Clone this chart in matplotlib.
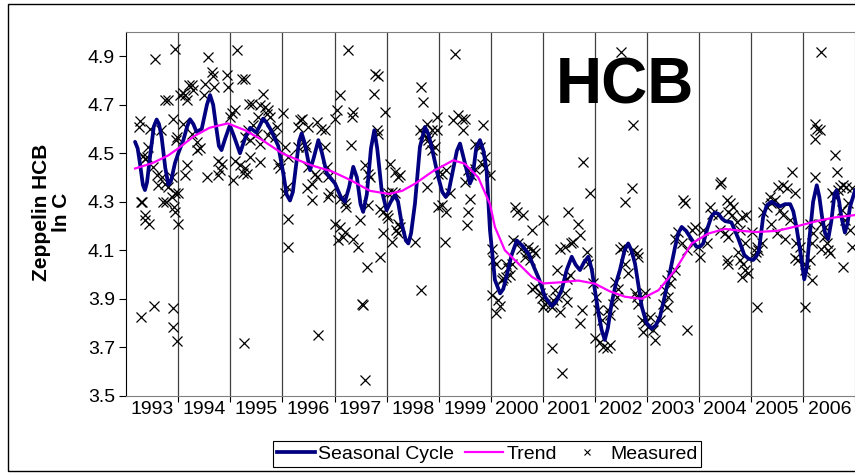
import matplotlib
matplotlib.use("Agg")
import matplotlib.pyplot as plt
from matplotlib.lines import Line2D
from matplotlib.patches import Rectangle

plt.rcParams["font.family"] = ["Liberation Sans", "DejaVu Sans"]

# year axis labels
years = list(range(1993, 2007))
y_ticks = [3.5, 3.7, 3.9, 4.1, 4.3, 4.5, 4.7, 4.9]

# seasonal cycle (smoothed fit)
seasonal_t = [1993.17, 1993.22, 1993.265, 1993.32, 1993.36, 1993.40, 1993.457, 1993.53,
              1993.585, 1993.63, 1993.68, 1993.75, 1993.81, 1993.86, 1993.937, 1994.0,
              1994.097, 1994.17, 1994.225, 1994.29, 1994.35, 1994.45, 1994.55, 1994.61,
              1994.67, 1994.72, 1994.78, 1994.83, 1994.9, 1994.99, 1995.07, 1995.185,
              1995.28, 1995.38, 1995.5, 1995.63, 1995.7, 1995.78, 1995.92, 1996.017,
              1996.08, 1996.145, 1996.2, 1996.25, 1996.32, 1996.37, 1996.43, 1996.53,
              1996.6, 1996.69, 1996.76, 1996.85, 1997.01, 1997.12, 1997.2, 1997.28,
              1997.36, 1997.43, 1997.5, 1997.55, 1997.62, 1997.7, 1997.764, 1997.82,
              1997.905, 1998.0, 1998.08, 1998.16, 1998.22, 1998.29, 1998.37, 1998.417,
              1998.47, 1998.545, 1998.64, 1998.737, 1998.8, 1998.865, 1998.99, 1999.07,
              1999.135, 1999.19, 1999.25, 1999.35, 1999.41, 1999.48, 1999.6, 1999.65,
              1999.72, 1999.793, 1999.86, 1999.92, 1999.985, 2000.08, 2000.18, 2000.24,
              2000.3, 2000.4, 2000.5, 2000.6, 2000.72, 2000.83, 2000.93, 2001.04,
              2001.17, 2001.26, 2001.36, 2001.46, 2001.555, 2001.63, 2001.713, 2001.79,
              2001.873, 2001.94, 2002.0, 2002.07, 2002.13, 2002.19, 2002.25, 2002.32,
              2002.40, 2002.48, 2002.57, 2002.64, 2002.7, 2002.77, 2002.84, 2002.9,
              2002.99, 2003.09, 2003.17, 2003.25, 2003.33, 2003.41, 2003.54, 2003.6,
              2003.666, 2003.75, 2003.826, 2003.95, 2004.02, 2004.08, 2004.16, 2004.24,
              2004.30, 2004.37, 2004.44, 2004.5, 2004.62, 2004.75, 2004.87, 2004.95,
              2005.04, 2005.1, 2005.15, 2005.23, 2005.3, 2005.39, 2005.47, 2005.55,
              2005.65, 2005.75, 2005.81, 2005.87, 2005.94, 2006.02, 2006.07, 2006.12,
              2006.19, 2006.26, 2006.31, 2006.36, 2006.42, 2006.48, 2006.54, 2006.6,
              2006.64, 2006.69, 2006.73, 2006.8, 2006.85, 2006.9, 2007.0]
seasonal_v = [4.547, 4.520, 4.457, 4.370, 4.348, 4.380, 4.485, 4.610,
              4.639, 4.620, 4.567, 4.440, 4.370, 4.385, 4.460, 4.500,
              4.554, 4.610, 4.640, 4.620, 4.588, 4.600, 4.700, 4.740,
              4.700, 4.620, 4.530, 4.513, 4.560, 4.615, 4.570, 4.500,
              4.560, 4.605, 4.585, 4.643, 4.625, 4.595, 4.530, 4.416,
              4.330, 4.305, 4.340, 4.430, 4.550, 4.582, 4.540, 4.430,
              4.480, 4.554, 4.500, 4.418, 4.375, 4.320, 4.300, 4.360,
              4.444, 4.400, 4.290, 4.258, 4.330, 4.520, 4.595, 4.520,
              4.348, 4.265, 4.300, 4.327, 4.300, 4.210, 4.140, 4.128,
              4.170, 4.293, 4.526, 4.608, 4.580, 4.526, 4.403, 4.340,
              4.320, 4.340, 4.403, 4.510, 4.540, 4.480, 4.375, 4.400,
              4.520, 4.554, 4.510, 4.430, 4.183, 3.977, 3.922, 3.940,
              3.990, 4.080, 4.140, 4.120, 4.087, 4.030, 3.980, 3.908,
              3.870, 3.890, 3.935, 4.020, 4.073, 4.040, 4.018, 4.050,
              4.073, 4.020, 3.935, 3.840, 3.770, 3.730, 3.780, 3.880,
              3.960, 4.018, 4.100, 4.128, 4.100, 4.045, 3.950, 3.867,
              3.800, 3.777, 3.790, 3.826, 3.900, 3.977, 4.114, 4.170,
              4.196, 4.180, 4.155, 4.114, 4.115, 4.128, 4.190, 4.240,
              4.255, 4.250, 4.230, 4.220, 4.215, 4.150, 4.080, 4.065,
              4.060, 4.075, 4.100, 4.237, 4.285, 4.300, 4.290, 4.280,
              4.290, 4.290, 4.260, 4.196, 4.100, 3.980, 4.030, 4.150,
              4.300, 4.368, 4.320, 4.240, 4.170, 4.146, 4.220, 4.330,
              4.347, 4.300, 4.240, 4.173, 4.210, 4.280, 4.350]

# long-term trend
trend_t = [1993.17, 1993.5, 1993.8, 1994.0, 1994.3, 1994.6, 1994.95, 1995.28, 1995.6,
           1995.99, 1996.3, 1996.56, 1996.95, 1997.3, 1997.68, 1998.05, 1998.3, 1998.55,
           1998.87, 1999.28, 1999.5, 1999.76, 1999.985, 2000.08, 2000.27, 2000.53,
           2000.79, 2001.01, 2001.36, 2001.68, 2002.0, 2002.29, 2002.58, 2002.9, 2003.22,
           2003.54, 2003.86, 2004.18, 2004.5, 2004.8, 2005.1, 2005.5, 2005.9, 2006.3,
           2006.6, 2007.0]
trend_v = [4.437, 4.459, 4.49, 4.52, 4.57, 4.605, 4.623, 4.595, 4.556,
           4.50, 4.472, 4.45, 4.425, 4.39, 4.345, 4.332, 4.345, 4.375,
           4.423, 4.471, 4.457, 4.40, 4.29, 4.196, 4.10, 4.045,
           3.99, 3.963, 3.968, 3.975, 3.962, 3.93, 3.908, 3.90, 3.935,
           4.018, 4.128, 4.169, 4.188, 4.18, 4.175, 4.18, 4.20, 4.222,
           4.235, 4.245]

# measured samples, (decimal year, ln C)
measured_1993_95 = [
    (1993.94, 4.93), (1993.55, 4.89), (1993.265, 4.633), (1993.25, 4.608), (1993.46, 4.602),
    (1993.67, 4.597), (1993.425, 4.526), (1993.39, 4.485), (1993.33, 4.49), (1993.36, 4.475),
    (1993.52, 4.444), (1993.28, 4.30), (1993.31, 4.30), (1993.37, 4.245), (1993.36, 4.225),
    (1993.44, 4.21), (1993.28, 3.823), (1993.54, 3.87), (1993.89, 3.863), (1993.9, 3.785),
    (1993.97, 3.725), (1993.8, 4.72), (1993.905, 4.643), (1994.03, 4.739), (1994.13, 4.74),
    (1994.16, 4.72), (1994.26, 4.78), (1994.29, 4.76), (1994.51, 4.787), (1994.65, 4.835),
    (1994.67, 4.82), (1994.58, 4.897), (1994.69, 4.773), (1994.49, 4.739), (1994.93, 4.822),
    (1994.96, 4.773), (1995.13, 4.925), (1995.23, 4.805), (1995.08, 4.677), (1995.03, 4.666),
    (1995.0, 4.648), (1995.36, 4.702), (1993.68, 4.403), (1993.75, 4.375), (1993.81, 4.36),
    (1993.87, 4.40), (1993.71, 4.30), (1993.77, 4.30), (1993.87, 4.32), (1993.94, 4.334),
    (1994.0, 4.337), (1993.925, 4.28), (1993.94, 4.258), (1993.99, 4.21), (1994.13, 4.41),
    (1994.16, 4.45), (1993.97, 4.567), (1993.96, 4.553), (1994.1, 4.622), (1994.26, 4.581),
    (1994.35, 4.547), (1994.35, 4.512), (1994.42, 4.52), (1994.55, 4.403), (1994.77, 4.47),
    (1994.83, 4.457), (1994.8, 4.43), (1994.77, 4.41), (1995.06, 4.39), (1995.09, 4.47),
    (1995.18, 4.45), (1995.25, 4.42), (1995.28, 4.44), (1995.28, 4.567), (1995.27, 3.716),
    (1993.6, 4.41), (1993.62, 4.37), (1993.74, 4.72), (1994.1, 4.75), (1994.2, 4.78),
]
measured_1995_97 = [
    (1995.28, 4.808), (1995.63, 4.746), (1995.41, 4.705), (1995.57, 4.698), (1995.66, 4.69),
    (1995.73, 4.677), (1995.7, 4.663), (1995.76, 4.65), (1995.54, 4.65), (1995.44, 4.617),
    (1995.345, 4.595), (1995.505, 4.58), (1995.38, 4.553), (1995.57, 4.54), (1995.79, 4.595),
    (1995.89, 4.608), (1995.86, 4.567), (1995.73, 4.574), (1996.02, 4.666), (1995.57, 4.464),
    (1995.38, 4.485), (1995.31, 4.416), (1995.92, 4.457), (1995.95, 4.44), (1996.05, 4.526),
    (1996.11, 4.485), (1996.08, 4.362), (1996.05, 4.334), (1996.11, 4.227), (1996.1, 4.114),
    (1996.34, 4.636), (1996.37, 4.64), (1996.3, 4.609), (1996.5, 4.608), (1996.66, 4.629),
    (1996.75, 4.602), (1996.82, 4.595), (1996.43, 4.54), (1996.46, 4.526), (1996.3, 4.526),
    (1996.5, 4.444), (1996.63, 4.416), (1996.66, 4.403), (1996.56, 4.375), (1996.47, 4.355),
    (1996.56, 4.306), (1996.82, 4.526), (1996.85, 4.444), (1996.88, 4.403), (1996.91, 4.334),
    (1996.88, 4.32), (1996.69, 3.75), (1997.11, 4.739), (1997.04, 4.677), (1997.01, 4.643),
    (1997.26, 4.925), (1997.36, 4.67), (1997.33, 4.65), (1997.32, 4.533), (1997.01, 4.21),
    (1997.11, 4.197), (1997.07, 4.142), (1997.17, 4.155), (1997.2, 4.176), (1997.36, 4.148),
    (1997.46, 4.114), (1997.2, 4.293), (1997.23, 4.28), (1997.1, 4.313), (1997.49, 4.224),
    (1997.59, 4.45), (1997.62, 4.03), (1997.52, 3.88), (1997.55, 3.874), (1997.585, 3.565),
]
measured_1997_99 = [
    (1997.78, 4.828), (1997.84, 4.82), (1997.76, 4.746), (1997.97, 4.67), (1997.81, 4.595),
    (1997.84, 4.58), (1997.65, 4.416), (1997.68, 4.40), (1997.65, 4.286), (1998.065, 4.457),
    (1998.16, 4.423), (1998.225, 4.403), (1998.26, 4.41), (1998.03, 4.334), (1998.1, 4.341),
    (1998.16, 4.334), (1997.87, 4.272), (1997.94, 4.258), (1998.0, 4.245), (1998.03, 4.231),
    (1997.94, 4.169), (1998.1, 4.135), (1998.225, 4.21), (1998.26, 4.197), (1998.19, 4.183),
    (1998.225, 4.169), (1997.87, 4.073), (1998.545, 4.135), (1998.67, 4.773), (1998.705, 4.712),
    (1998.64, 4.595), (1998.705, 4.58), (1998.77, 4.567), (1998.8, 4.553), (1998.83, 4.54),
    (1998.865, 4.512), (1998.93, 4.526), (1998.77, 4.622), (1998.865, 4.595), (1998.96, 4.595),
    (1998.96, 4.65), (1998.77, 4.362), (1998.67, 3.935), (1999.12, 4.135), (1998.99, 4.279),
    (1999.06, 4.286), (1999.15, 4.258), (1999.22, 4.334), (1998.99, 4.416), (1999.06, 4.416),
    (1999.15, 4.43), (1999.28, 4.636), (1999.38, 4.657), (1999.44, 4.643), (1999.5, 4.643),
    (1999.47, 4.595), (1999.31, 4.91), (1999.57, 4.43), (1999.505, 4.382), (1999.63, 4.41),
    (1999.7, 4.437), (1999.6, 4.313), (1999.57, 4.258), (1999.54, 4.203), (1999.7, 4.54),
    (1999.79, 4.526), (1999.86, 4.616), (1999.89, 4.485), (1999.825, 4.457), (1999.89, 4.44),
]
measured_2000_02 = [
    (1999.985, 4.41), (2000.02, 4.107), (2000.05, 4.06), (2000.11, 4.045), (2000.02, 3.915),
    (2000.145, 3.894), (2000.11, 3.84), (2000.18, 3.87), (2000.21, 3.977), (2000.24, 3.984),
    (2000.3, 3.99), (2000.37, 3.997), (2000.34, 4.025), (2000.3, 4.045), (2000.4, 4.045),
    (2000.465, 4.279), (2000.5, 4.258), (2000.625, 4.245), (2000.785, 4.183), (2001.01, 4.224),
    (2000.43, 4.142), (2000.53, 4.128), (2000.59, 4.107), (2000.69, 4.094), (2000.72, 4.114),
    (2000.82, 4.1), (2000.85, 4.087), (2000.66, 4.073), (2000.75, 4.06), (2000.785, 3.942),
    (2000.85, 3.949), (2000.945, 3.922), (2000.98, 3.901), (2001.04, 3.88), (2001.01, 3.867),
    (2001.14, 3.874), (2001.2, 3.894), (2001.265, 3.908), (2001.23, 3.935), (2001.17, 3.867),
    (2001.265, 4.018), (2001.33, 3.846), (2001.17, 3.695), (2001.36, 3.592), (2001.33, 4.107),
    (2001.425, 4.114), (2001.55, 4.128), (2001.585, 4.135), (2001.68, 4.21), (2001.71, 4.162),
    (2001.49, 4.258), (2001.46, 3.983), (2001.52, 3.997), (2001.425, 3.922), (2001.46, 3.888),
    (2001.745, 3.853), (2001.71, 3.798), (2001.78, 4.464), (2001.905, 4.334), (2001.84, 4.094),
    (2001.87, 4.045), (2001.97, 3.963), (2002.03, 3.908), (2002.06, 3.853), (2002.0, 3.736),
    (2002.1, 3.722), (2002.16, 3.702), (2002.23, 3.695), (2002.13, 3.812),
]
measured_2002_04 = [
    (2002.51, 4.918), (2002.74, 4.616), (2002.705, 4.355), (2002.58, 4.30), (2002.26, 3.853),
    (2002.29, 3.832), (2002.29, 3.709), (2002.385, 3.97), (2002.45, 3.942), (2002.415, 3.908),
    (2002.35, 3.88), (2002.48, 4.107), (2002.545, 4.114), (2002.64, 4.004), (2002.58, 4.045),
    (2002.74, 4.1), (2002.8, 4.087), (2002.83, 4.073), (2002.77, 3.922), (2002.83, 3.88),
    (2002.8, 3.908), (2002.9, 3.812), (2002.96, 3.798), (2003.025, 3.784), (2002.93, 3.764),
    (2003.15, 3.729), (2003.06, 3.826), (2003.25, 3.812), (2003.12, 3.77), (2002.96, 3.922),
    (2003.31, 3.88), (2003.38, 3.867), (2003.41, 3.908), (2003.345, 3.935), (2003.44, 3.963),
    (2003.38, 3.977), (2003.47, 3.997), (2003.54, 4.018), (2003.76, 3.77), (2003.54, 4.148),
    (2003.6, 4.176), (2003.665, 4.128), (2003.7, 4.306), (2003.73, 4.293), (2003.76, 4.1),
    (2003.86, 4.183), (2003.92, 4.196), (2003.985, 4.114), (2004.02, 4.073), (2003.89, 4.128),
    (2004.08, 4.183), (2004.145, 4.128), (2004.24, 4.251), (2004.21, 4.279), (2004.37, 4.245),
    (2004.4, 4.183), (2004.5, 4.169), (2004.53, 4.06), (2004.4, 4.375), (2004.42, 4.38),
]
measured_2004_07 = [
    (2004.53, 4.307), (2004.59, 4.293), (2004.66, 4.28), (2004.56, 4.258), (2004.625, 4.245),
    (2004.72, 4.217), (2004.82, 4.238), (2004.91, 4.245), (2004.785, 4.183), (2004.56, 4.155),
    (2004.56, 4.045), (2004.75, 4.094), (2004.785, 4.06), (2004.85, 4.045), (2004.82, 3.99),
    (2004.945, 4.004), (2004.88, 4.018), (2004.88, 4.128), (2005.01, 4.176), (2005.105, 4.114),
    (2005.14, 4.1), (2005.2, 4.128), (2005.1, 4.094), (2005.07, 4.073), (2005.105, 3.864),
    (2005.23, 4.258), (2005.3, 4.28), (2005.39, 4.293), (2005.46, 4.307), (2005.36, 4.32),
    (2005.52, 4.362), (2005.62, 4.368), (2005.68, 4.355), (2005.55, 4.265), (2005.62, 4.245),
    (2005.745, 4.224), (2005.78, 4.423), (2005.84, 4.334), (2005.65, 4.148), (2005.49, 4.169),
    (2005.39, 4.21), (2005.87, 4.128), (2005.94, 4.114), (2005.84, 4.066), (2005.9, 4.06),
    (2006.03, 4.018), (2006.13, 4.06), (2006.16, 3.977), (2006.03, 4.045), (2006.03, 3.867),
    (2006.225, 4.622), (2006.26, 4.602), (2006.32, 4.595), (2006.225, 4.56), (2006.35, 4.918),
    (2006.225, 4.403), (2006.61, 4.492), (2006.64, 4.423), (2006.13, 4.21), (2006.19, 4.169),
    (2006.16, 4.128), (2006.35, 4.21), (2006.42, 4.197), (2006.39, 4.155), (2006.35, 4.107),
    (2006.48, 4.1), (2006.51, 4.087), (2006.45, 4.128), (2006.545, 4.334), (2006.61, 4.32),
    (2006.675, 4.348), (2006.705, 4.362), (2006.77, 4.368), (2006.83, 4.362), (2006.93, 4.355),
    (2006.74, 4.265), (2006.865, 4.293), (2006.9, 4.183), (2006.93, 4.114), (2006.8, 4.224),
    (2006.77, 4.032),
]


def main():
    measured = (measured_1993_95 + measured_1995_97 + measured_1997_99
                + measured_2000_02 + measured_2002_04 + measured_2004_07)
    meas_t = [p[0] for p in measured]
    meas_v = [p[1] for p in measured]

    fig = plt.figure(figsize=(8.55, 4.76), dpi=100)
    W, H = 855, 476
    # outer chart border
    fig.patches.append(Rectangle((8 / W, 1 - 471 / H), 1.0, 467 / H,
                                 transform=fig.transFigure, fill=False,
                                 edgecolor="black", linewidth=1.0))

    ax = fig.add_axes([126.2 / W, 1 - 395.7 / H, 729.1 / W, 363.7 / H])
    ax.set_xlim(1993, 2007)
    ax.set_ylim(3.5, 5.0)

    # year separators
    for yr in years[1:]:
        ax.axvline(yr, color="#404040", linewidth=0.9, zorder=1)
    ax.set_xticks(years[1:] + [2007])
    ax.set_xticklabels([])
    ax.tick_params(axis="x", which="major", length=4, color="black")
    ax.set_xticks([y + 0.5 for y in years], minor=True)
    ax.set_xticklabels([str(y) for y in years], minor=True, fontsize=14)
    ax.tick_params(axis="x", which="minor", length=0, pad=4)

    ax.set_yticks(y_ticks)
    ax.set_yticklabels([f"{v:.1f}" for v in y_ticks], fontsize=14)
    ax.tick_params(axis="y", length=5, direction="out", pad=3)

    for side in ("top", "right"):
        ax.spines[side].set_color("#808080")
    ax.spines["left"].set_color("black")
    ax.spines["bottom"].set_color("#808080")

    ax.plot(meas_t, meas_v, linestyle="none", marker="x", color="black",
            markersize=6.5, markeredgewidth=0.9, zorder=2)
    ax.plot(seasonal_t, seasonal_v, color="#000080", linewidth=2.7,
            solid_joinstyle="round", solid_capstyle="round", zorder=3)
    ax.plot(trend_t, trend_v, color="#FF00FF", linewidth=1.6,
            solid_joinstyle="round", zorder=4)

    ax.text(2002.58, 4.707, "HCB", fontsize=46, fontweight="bold",
            ha="center", va="baseline", zorder=5)

    fig.text(51.7 / W, 1 - 212.5 / H, "Zeppelin HCB\nln C", rotation=90,
             fontsize=15, fontweight="bold", ha="center", va="center",
             multialignment="center", linespacing=1.05)

    handles = [
        Line2D([], [], color="#000080", linewidth=2.7),
        Line2D([], [], color="#FF00FF", linewidth=1.6),
        Line2D([], [], linestyle="none", marker="x", color="black",
               markersize=5, markeredgewidth=0.8),
    ]
    leg = fig.legend(handles, ["Seasonal Cycle", "Trend", "Measured"],
                     loc="center", bbox_to_anchor=(487 / W, 1 - 454 / H),
                     ncol=3, fontsize=14, frameon=True, fancybox=False,
                     framealpha=1, edgecolor="black", borderpad=0.2,
                     handlelength=1.95, handletextpad=0.2, columnspacing=0.55,
                     borderaxespad=0)
    leg.get_frame().set_linewidth(0.8)

    fig.savefig("out.png", dpi=100)
    plt.close(fig)


if __name__ == "__main__":
    main()
